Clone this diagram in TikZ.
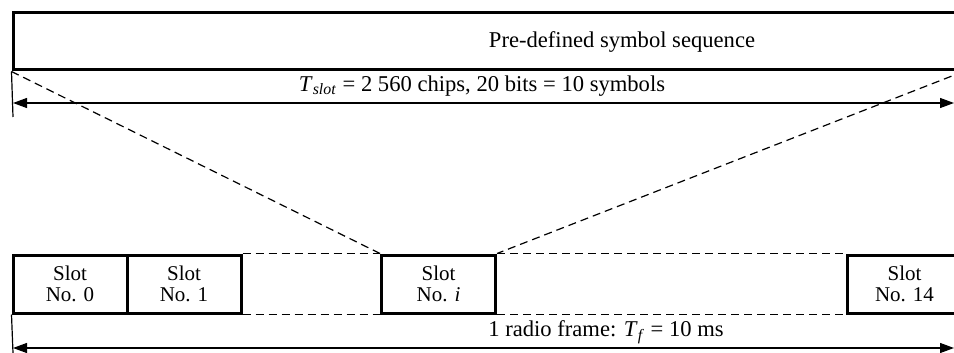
\documentclass[tikz,border=0pt]{standalone}
\usepackage{fontspec}
\setmainfont{Liberation Serif}
\usetikzlibrary{arrows.meta,positioning}

\begin{document}
\begin{tikzpicture}[
    x=0.5pt, y=-0.5pt,
    seqbox/.style={rectangle, draw, line width=1.5pt, inner sep=0pt, minimum width=474.5pt, minimum height=28.5pt},
    slotbox/.style={rectangle, draw, line width=1.5pt, inner sep=0pt, minimum width=57pt, minimum height=29pt, align=center, font=\fontsize{10.5}{10.5}\selectfont},
    dimarrow/.style={{Triangle[length=7pt,width=5pt]}-{Triangle[length=7pt,width=5pt]}, line width=0.6pt},
    tick/.style={line width=0.6pt},
    guide/.style={dashed, dash pattern=on 4pt off 2.5pt, line width=0.6pt},
    label/.style={font=\fontsize{11.3}{13}\selectfont, inner sep=0pt}
]
  \useasboundingbox (0,0) rectangle (954,353);
  \clip (0,0) rectangle (954,353);

  % Nodes
  \node[seqbox] (seq) at (487.5,41.5) {};
  \node[label] (seqtext) at (622,42) {Pre-defined symbol sequence};

  \node[slotbox] (s0) at (70,284) {Slot\\No. 0};
  \node[slotbox] (s1) at (184,284) {Slot\\No. 1};
  \node[slotbox] (si) at (438.5,284) {Slot\\No. \textit{i}};
  \node[slotbox] (s14) at (904.5,284) {Slot\\No. 14};

  \coordinate (toptick) at (13,117);
  \coordinate (topL) at (13,103);
  \coordinate (topR) at (954,103);
  \coordinate (bottick) at (13,353);
  \coordinate (botL) at (13,348);
  \coordinate (botR) at (954,348);

  \node[label] (slotlabel) at (482,86) {\textit{T}\textsubscript{\textit{slot}} = 2 560 chips, 20 bits = 10 symbols};
  \node[label] (framelabel) at (606,332) {1 radio frame: \textit{T}\textsubscript{\textit{f}} = 10 ms};

  % Arrows
  \draw[tick] (seq.south west) -- (toptick);
  \draw[dimarrow] (topL) -- (topR);
  \draw[tick] (s0.south west) -- (bottick);
  \draw[dimarrow] (botL) -- (botR);

  % Dashed guides
  \draw[guide] (seq.south west) -- (si.north west);
  \draw[guide] (seq.south east) -- (si.north east);
  \draw[guide] (s1.north east) -- (si.north west);
  \draw[guide] (s1.south east) -- (si.south west);
  \draw[guide] (si.north east) -- (s14.north west);
  \draw[guide] (si.south east) -- (s14.south west);
\end{tikzpicture}
\end{document}
